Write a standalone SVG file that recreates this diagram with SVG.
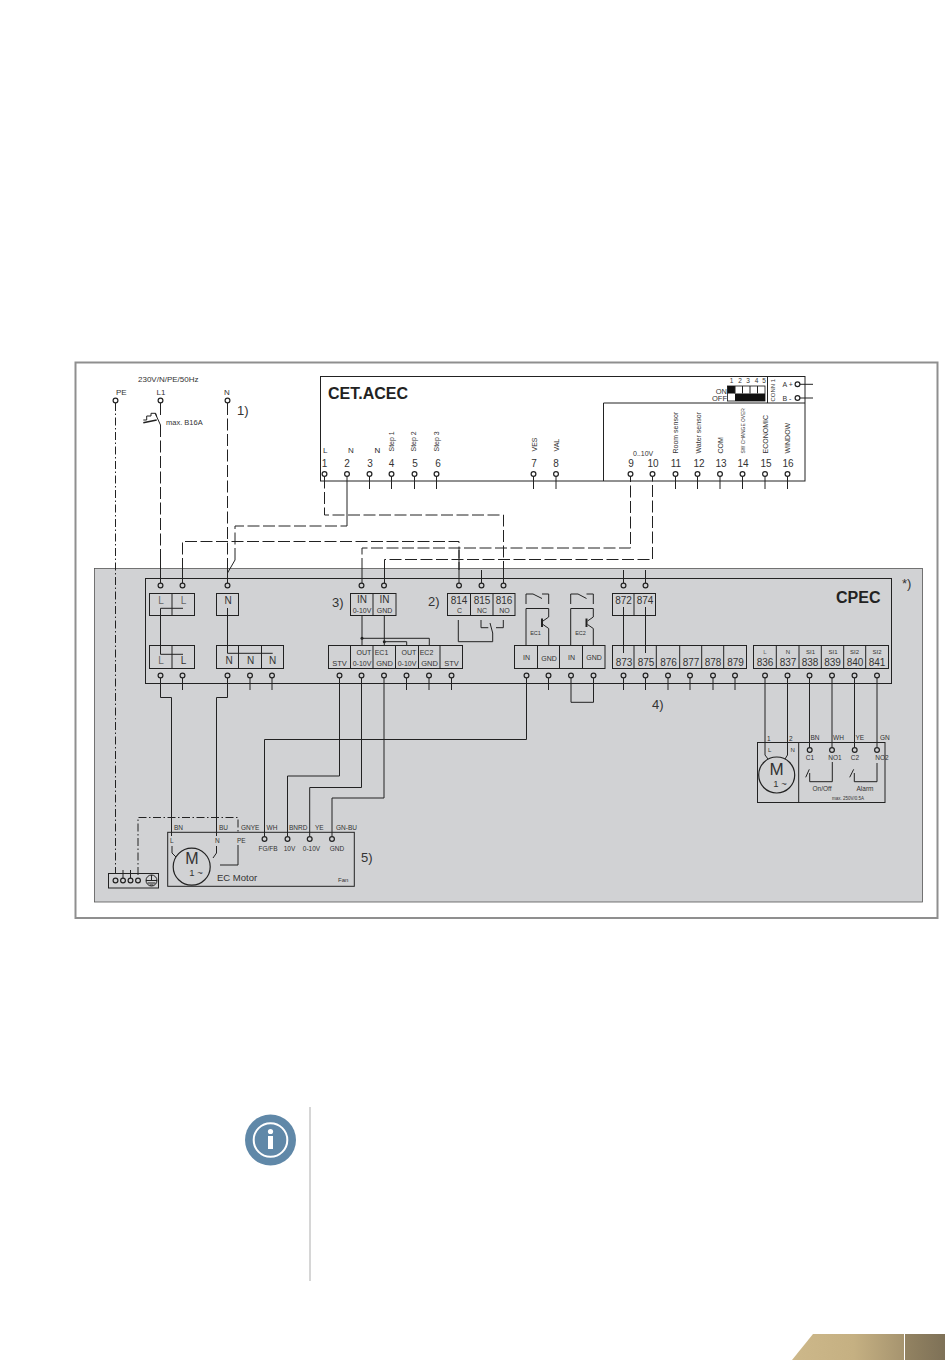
<svg xmlns="http://www.w3.org/2000/svg" width="950" height="1360" viewBox="0 0 950 1360">
<style>
text{font-family:"Liberation Sans",Arial,sans-serif;fill:#333;font-size:7px}
.m{text-anchor:middle}
.e{text-anchor:end}
.n{font-size:10px}
.s{font-size:7px}
.b{font-size:16px;font-weight:bold;fill:#222}
.r{font-size:13px}
.g{fill:#666}
.box{fill:none;stroke:#222;stroke-width:1}
.w{fill:none;stroke:#222;stroke-width:1}
.d{fill:none;stroke:#222;stroke-width:1;stroke-dasharray:12 3.500}
.p{fill:none;stroke:#222;stroke-width:1;stroke-dasharray:8 2.500 1.500 2.500}
.t{fill:#fff;stroke:#222;stroke-width:1.200}
.tg{fill:#d1d2d4;stroke:#222;stroke-width:1.200}
</style>
<defs>
<circle id="tw" r="2.400" class="t"/>
<circle id="tc" r="2.400" class="tg"/>
<linearGradient id="gold" x1="0" y1="0" x2="1" y2="0"><stop offset="0" stop-color="#cdb88a"/><stop offset="0.55" stop-color="#c5b082"/><stop offset="1" stop-color="#a6946f"/></linearGradient>
<linearGradient id="gold2" x1="0" y1="0" x2="1" y2="0"><stop offset="0" stop-color="#938362"/><stop offset="1" stop-color="#7e7157"/></linearGradient>
</defs>
<rect width="950" height="1360" fill="#fff"/>
<g id="frame">
<rect x="75.500" y="362.500" width="862" height="555.500" fill="#fff" stroke="#8f8f8f" stroke-width="2"/>
<rect x="94.500" y="568.500" width="828" height="333.500" fill="#d1d2d4" stroke="#555" stroke-width="0.800"/>
</g>
<g id="supply">
<text x="138" y="381.500" style="font-size:8px">230V/N/PE/50Hz</text>
<text x="116" y="394.500" style="font-size:8px">PE</text>
<text x="156.500" y="394.500" style="font-size:8px">L1</text>
<text x="224" y="394.500" style="font-size:8px">N</text>
<text x="237" y="415" class="r">1)</text>
<text x="166" y="424.500" style="font-size:7.500px">max. B16A</text>
<use href="#tw" x="115.500" y="400.500"/><use href="#tw" x="160.500" y="400.500"/><use href="#tw" x="227.500" y="400.500"/>
<path class="w" d="M160.500 403V415M155 413L160.500 425M143.300 420H146.700V416H151V413.300H155.700L156.700 416.700"/>
<path d="M143.300 422.700L156.700 420" stroke="#222" stroke-width="1.500" fill="none"/>
</g>
<g id="cet-acec">
<rect class="box" x="320.500" y="376.500" width="484.500" height="104.500"/>
<path class="box" d="M805 403H603.500V481"/>
<text x="328" y="399" class="b">CET.ACEC</text>
<text x="323" y="453" style="font-size:8px">L</text><text x="348" y="453" style="font-size:8px">N</text><text x="374.500" y="453" style="font-size:8px;fill:#222">N</text>
<g class="n">
<text class="m n" x="324.500" y="466.500">1</text><text class="m n" x="347" y="466.500">2</text><text class="m n" x="370" y="466.500">3</text><text class="m n" x="391.500" y="466.500">4</text><text class="m n" x="415" y="466.500">5</text><text class="m n" x="438" y="466.500">6</text><text class="m n" x="534" y="466.500">7</text><text class="m n" x="556" y="466.500">8</text><text class="m n" x="631" y="466.500">9</text><text class="m n" x="653" y="466.500">10</text><text class="m n" x="676" y="466.500">11</text><text class="m n" x="699" y="466.500">12</text><text class="m n" x="721" y="466.500">13</text><text class="m n" x="743" y="466.500">14</text><text class="m n" x="766" y="466.500">15</text><text class="m n" x="788" y="466.500">16</text>
</g>
<text transform="translate(393.500 451.500) rotate(-90)">Step 1</text>
<text transform="translate(416 451.500) rotate(-90)">Step 2</text>
<text transform="translate(438.500 451.500) rotate(-90)">Step 3</text>
<text transform="translate(536.500 451.500) rotate(-90)">VES</text>
<text transform="translate(559 451.500) rotate(-90)">VAL</text>
<text x="633" y="456">0..10V</text>
<text transform="translate(678 453.500) rotate(-90)">Room sensor</text>
<text transform="translate(700.500 453.500) rotate(-90)">Water sensor</text>
<text transform="translate(723 453.500) rotate(-90)">COM</text>
<text transform="translate(744.500 453.500) rotate(-90)" style="font-size:4.900px">SW CHANGE OVER</text>
<text transform="translate(767.500 453.500) rotate(-90)">ECONOMIC</text>
<text transform="translate(790 453.500) rotate(-90)">WINDOW</text>
<use href="#tw" x="324.500" y="474"/><use href="#tw" x="347" y="474"/><use href="#tw" x="369.500" y="474"/><use href="#tw" x="391.500" y="474"/><use href="#tw" x="414.500" y="474"/><use href="#tw" x="436.500" y="474"/><use href="#tw" x="533.500" y="474"/><use href="#tw" x="556" y="474"/><use href="#tw" x="630.500" y="474"/><use href="#tw" x="652.500" y="474"/><use href="#tw" x="675.500" y="474"/><use href="#tw" x="697.500" y="474"/><use href="#tw" x="720" y="474"/><use href="#tw" x="742.500" y="474"/><use href="#tw" x="765" y="474"/><use href="#tw" x="787.500" y="474"/>
<path class="w" d="M369.500 476.500V489M391.500 476.500V489M414.500 476.500V489M436.500 476.500V489M533.500 476.500V489M556 476.500V489M675.500 476.500V489M697.500 476.500V489M720 476.500V489M742.500 476.500V489M765 476.500V489M787.500 476.500V489"/>
<g id="dip">
<text class="e" x="727" y="393.500" style="font-size:7.500px">ON</text>
<text class="e" x="727" y="401" style="font-size:7.500px">OFF</text>
<text class="m" x="731.500" y="382.500" style="font-size:6.500px">1</text><text class="m" x="740" y="382.500" style="font-size:6.500px">2</text><text class="m" x="748" y="382.500" style="font-size:6.500px">3</text><text class="m" x="756.500" y="382.500" style="font-size:6.500px">4</text><text class="m" x="764" y="382.500" style="font-size:6.500px">5</text>
<rect x="727.500" y="386" width="37.500" height="15" fill="#fff" stroke="#111" stroke-width="0.800"/>
<rect x="727.500" y="386" width="7.500" height="7.500" fill="#111"/>
<rect x="735" y="393.500" width="30" height="7.500" fill="#111"/>
<path class="box" d="M742.500 386V393.500M750 386V393.500M757.500 386V393.500M735 386V393.500"/>
<path class="box" d="M767.500 376.500V403"/>
<text transform="translate(775 401.500) rotate(-90)" style="font-size:6px">CONN 1</text>
<text x="782.500" y="386.500">A +</text>
<text x="782.500" y="400.500">B -</text>
<use href="#tw" x="797.500" y="384.300"/><use href="#tw" x="797.500" y="398"/>
<path class="w" d="M800 384.300H813M800 398H813"/>
</g>
</g>
<g id="connectors">
<path class="p" d="M115.500 403V873"/>
<path class="p" d="M138 875V817.500H238V832"/>
<path class="w" d="M238 845V865H220"/>
<path class="d" d="M160.500 425V560"/>
<path class="w" d="M160.500 560V583"/>
<path class="d" d="M227.500 403V568"/>
<path class="w" d="M227.500 568V583M227.500 573L235 560"/>
<path class="d" d="M235 560V526H347"/>
<path class="w" d="M347 476.500V526"/>
<path class="d" d="M324.500 476.500V515H503.500V570"/>
<path class="w" d="M503.500 570V583"/>
<path class="d" d="M182.500 570V541.500H459V570"/>
<path class="w" d="M182.500 570V583M459 550V583"/>
<path class="d" d="M362 570V548H630.500V476.500"/>
<path class="d" d="M384.500 570V559.500H652.500V476.500"/>
<path class="w" d="M362 570V583M384.500 570V583M481.500 570V583M623.500 570V583M645.500 570V583"/>
<path class="w" d="M160.500 678V697.500H171.500V836M172 846V853L176 857"/>
<path class="w" d="M227.500 678V697.500H216.500V836M216.500 846V853L213 858"/>
<path class="w" d="M526.500 678V739.500H264.500V836.500"/>
<path class="w" d="M339.500 678V776H287.500V836.500"/>
<path class="w" d="M361.500 678V787.500H309.700V836.500"/>
<path class="w" d="M384 678V798H332V836.500"/>
<path class="w" d="M250 678V690M272 678V690M406.500 678V690M429 678V690M451.500 678V690M548.500 678V690M623.500 678V690M645.500 678V690M668 678V690M690 678V690M713 678V690M735 678V690"/>
<path class="w" d="M182.500 678V690"/>
<path class="w" d="M571 678V702.300H593.500V678"/>
<path class="w" d="M765 678V755L768 759M787.500 678V755L785 759"/>
<path class="w" d="M809.500 678V747.500M832 678V747.500M854.500 678V747.500M877 678V747.500"/>
</g>
<g id="cpec">
<rect class="box" x="145.500" y="578.500" width="746" height="105"/>
<text x="836" y="603" class="b">CPEC</text>
<text x="902" y="588" class="r">*)</text>
<text x="332" y="607" class="r">3)</text>
<text x="428" y="606" class="r">2)</text>
<text x="652" y="709" class="r">4)</text>
<use href="#tc" x="160.500" y="585.500"/><use href="#tc" x="182.500" y="585.500"/><use href="#tc" x="227.500" y="585.500"/><use href="#tc" x="361.500" y="585.500"/><use href="#tc" x="384" y="585.500"/><use href="#tc" x="459" y="585.500"/><use href="#tc" x="481.500" y="585.500"/><use href="#tc" x="503.500" y="585.500"/><use href="#tc" x="623.500" y="585.500"/><use href="#tc" x="645.500" y="585.500"/>
<use href="#tc" x="160.500" y="675.500"/><use href="#tc" x="182.500" y="675.500"/><use href="#tc" x="227.500" y="675.500"/><use href="#tc" x="250" y="675.500"/><use href="#tc" x="272" y="675.500"/><use href="#tc" x="339.500" y="675.500"/><use href="#tc" x="361.500" y="675.500"/><use href="#tc" x="384" y="675.500"/><use href="#tc" x="406.500" y="675.500"/><use href="#tc" x="429" y="675.500"/><use href="#tc" x="451.500" y="675.500"/><use href="#tc" x="526.500" y="675.500"/><use href="#tc" x="548.500" y="675.500"/><use href="#tc" x="571" y="675.500"/><use href="#tc" x="593.500" y="675.500"/><use href="#tc" x="623.500" y="675.500"/><use href="#tc" x="645.500" y="675.500"/><use href="#tc" x="668" y="675.500"/><use href="#tc" x="690" y="675.500"/><use href="#tc" x="713" y="675.500"/><use href="#tc" x="735" y="675.500"/><use href="#tc" x="765" y="675.500"/><use href="#tc" x="787.500" y="675.500"/><use href="#tc" x="809.500" y="675.500"/><use href="#tc" x="832" y="675.500"/><use href="#tc" x="854.500" y="675.500"/><use href="#tc" x="877" y="675.500"/>
<g id="block-l-top"><rect class="box" x="149.500" y="593.500" width="45" height="22"/><path class="box" d="M172 593.500V615.500"/>
<text class="m n g" x="161" y="604">L</text><text class="m n g" x="183.500" y="604">L</text>
<path class="w" d="M183 608.300H160.500V654.300H183"/></g>
<g id="block-n-top"><rect class="box" x="216.500" y="593.500" width="22" height="22"/><text class="m n" x="228" y="603.500">N</text><path class="w" d="M227.500 608V653.300H272.700"/></g>
<g id="block-l-bottom"><rect class="box" x="149.500" y="645.500" width="45" height="23"/><path class="box" d="M172 645.500V668.500"/>
<text class="m n g" x="161" y="664">L</text><text class="m n" x="183.500" y="664">L</text></g>
<g id="block-n-bottom"><rect class="box" x="216.500" y="645.500" width="67" height="23"/><path class="box" d="M238.500 645.500V668.500M261.500 645.500V668.500"/>
<text class="m n" x="229" y="664">N</text><text class="m n" x="250.500" y="664">N</text><text class="m n" x="272.500" y="664">N</text></g>
<g id="block-in"><rect class="box" x="350.500" y="593.500" width="45.500" height="22"/><path class="box" d="M373 593.500V615.500"/>
<text class="m n" x="362" y="603">IN</text><text class="m n" x="384.500" y="603">IN</text><text class="m s" x="362" y="612.500">0-10V</text><text class="m s" x="384.500" y="612.500">GND</text>
<path class="w" d="M362 615.500V645.500M384.300 615.500V645.500M362 638.300H429.300V645.500M384.300 641.700H406.700V645.500"/>
<circle cx="362" cy="638.300" r="1.500" fill="#222"/><circle cx="384.300" cy="641.700" r="1.500" fill="#222"/></g>
<g id="block-814"><rect class="box" x="447.500" y="593.500" width="67.500" height="22"/><path class="box" d="M470.500 593.500V615.500M493 593.500V615.500"/>
<text class="m n" x="459" y="603.500">814</text><text class="m n" x="482" y="603.500">815</text><text class="m n" x="504" y="603.500">816</text>
<text class="m s" x="459.500" y="612.500">C</text><text class="m s" x="482" y="612.500">NC</text><text class="m s" x="504.500" y="612.500">NO</text>
<path class="w" d="M458.300 620V641.700H492.700V633L490 623M481 620V627.700H488.300M503.300 620V627.700H496"/></g>
<g id="block-stv"><rect class="box" x="328.500" y="645.500" width="134" height="23"/><path class="box" d="M350.500 645.500V668.500M373 645.500V668.500M395.500 645.500V668.500M418.500 645.500V668.500M440 645.500V668.500"/>
<text class="m" x="339.500" y="666" style="font-size:7.500px">STV</text><text class="m s" x="362" y="666">0-10V</text><text class="m" x="384.500" y="666" style="font-size:7.500px">GND</text><text class="m s" x="407" y="666">0-10V</text><text class="m" x="429.500" y="666" style="font-size:7.500px">GND</text><text class="m" x="451.500" y="666" style="font-size:7.500px">STV</text>
<text class="m s" x="364" y="654.500">OUT</text><text class="m s" x="381.500" y="654.500">EC1</text><text class="m s" x="409" y="654.500">OUT</text><text class="m s" x="426.500" y="654.500">EC2</text></g>
<g id="block-ec"><rect class="box" x="514.500" y="645.500" width="90.500" height="23"/><path class="box" d="M537.500 645.500V668.500M559.500 645.500V668.500M582.500 645.500V668.500"/>
<text class="m" x="526.500" y="660">IN</text><text class="m" x="549" y="660.500">GND</text><text class="m" x="571.500" y="660">IN</text><text class="m" x="594" y="660">GND</text>
<path class="w" d="M526 604V594H533L542 598.500M542 594H548.700V604"/>
<path class="w" d="M526 645.500V608.500H548.700V617L543 621M543 624.500L548.700 628.500V645.500"/>
<path d="M542 618.500V627" stroke="#222" stroke-width="2" fill="none"/>
<text class="m" x="535.500" y="635" style="font-size:5.500px">EC1</text>
<path class="w" d="M570.700 604V594H578L586.500 598.500M586.500 594H593.300V604"/>
<path class="w" d="M570.700 645.500V608.500H593.300V617L587.500 621M587.500 624.500L593.300 628.500V645.500"/>
<path d="M586.500 618.500V627" stroke="#222" stroke-width="2" fill="none"/>
<text class="m" x="580.500" y="635" style="font-size:5.500px">EC2</text></g>
<g id="block-872"><rect class="box" x="612.500" y="593.500" width="43" height="22"/><path class="box" d="M634 593.500V615.500"/>
<text class="m n" x="623.500" y="603.500">872</text><text class="m n" x="645" y="603.500">874</text>
<path class="w" d="M623.500 607V653M645.500 607V653"/></g>
<g id="block-873"><rect class="box" x="612.500" y="645.500" width="134" height="23"/><path class="box" d="M634 645.500V668.500M656.300 645.500V668.500M679.700 645.500V668.500M701.700 645.500V668.500M723.700 645.500V668.500"/>
<text class="m n" x="624" y="666">873</text><text class="m n" x="646" y="666">875</text><text class="m n" x="668.500" y="666">876</text><text class="m n" x="691" y="666">877</text><text class="m n" x="713" y="666">878</text><text class="m n" x="735.500" y="666">879</text></g>
<g id="block-836"><rect class="box" x="753.500" y="645.500" width="135" height="23"/><path class="box" d="M776.300 645.500V668.500M799 645.500V668.500M821.300 645.500V668.500M843.700 645.500V668.500M865.700 645.500V668.500"/>
<text class="m n" x="765" y="666">836</text><text class="m n" x="788" y="666">837</text><text class="m n" x="810" y="666">838</text><text class="m n" x="832.500" y="666">839</text><text class="m n" x="855" y="666">840</text><text class="m n" x="877" y="666">841</text>
<text class="m g" x="765" y="653.500" style="font-size:6px">L</text><text class="m" x="788" y="653.500" style="font-size:6px">N</text><text class="m" x="810.500" y="653.500" style="font-size:6px">SI1</text><text class="m" x="833" y="653.500" style="font-size:6px">SI1</text><text class="m" x="854.500" y="653.500" style="font-size:6px">SI2</text><text class="m" x="877" y="653.500" style="font-size:6px">SI2</text></g>
</g>
<g id="pump-motor">
<rect class="box" x="757.500" y="742.500" width="127.500" height="60"/><path class="box" d="M798.700 742.500V802.500"/>
<circle cx="776.700" cy="775" r="18" fill="none" stroke="#222" stroke-width="1.200"/>
<text class="m" x="776.700" y="775" style="font-size:17px">M</text><text class="m" x="780" y="786.500" style="font-size:9.500px">1 ~</text>
<text x="767" y="741" style="font-size:6.500px">1</text><text x="789" y="741" style="font-size:6.500px">2</text>
<text x="768" y="751.500" style="font-size:6px">L</text><text x="790.500" y="751.500" style="font-size:6px">N</text>
<text x="810.500" y="740" style="font-size:6.500px">BN</text><text x="833" y="740" style="font-size:6.500px">WH</text><text x="855.500" y="740" style="font-size:6.500px">YE</text><text x="880" y="740" style="font-size:6.500px">GN</text>
<use href="#tc" x="809.700" y="750"/><use href="#tc" x="832" y="750"/><use href="#tc" x="854.700" y="750"/><use href="#tc" x="877" y="750"/>
<text class="m" x="810" y="760" style="font-size:6.500px">C1</text><text class="m" x="835" y="760" style="font-size:6.500px">NO1</text><text class="m" x="855" y="760" style="font-size:6.500px">C2</text><text class="m" x="882" y="760" style="font-size:6.500px">NO2</text>
<path class="w" d="M805.700 777.300L809.300 769.300M809.700 773V781.700H832.300V762M849.700 777.300L853.700 769.300M854.300 773V781.700H877V763"/>
<text class="m" x="822" y="791" style="font-size:6.500px">On/Off</text><text class="m" x="865" y="791" style="font-size:6.500px">Alarm</text>
<text class="m" x="848" y="800" style="font-size:4.500px">max. 250V/0.5A</text>
</g>
<g id="ec-motor">
<rect class="box" x="167.700" y="832.300" width="186.600" height="54"/>
<circle cx="191.700" cy="866.700" r="18.500" fill="none" stroke="#222" stroke-width="1.200"/>
<text class="m" x="192" y="864" style="font-size:16px">M</text><text class="m" x="196" y="876" style="font-size:9.500px">1 ~</text>
<text x="217" y="881" style="font-size:9.500px">EC Motor</text>
<text x="338" y="882" style="font-size:6px">Fan</text>
<text x="361" y="862" class="r">5)</text>
<text x="174" y="829.500" style="font-size:6.500px">BN</text><text x="219" y="829.500" style="font-size:6.500px">BU</text><text x="241" y="829.500" style="font-size:6.500px">GNYE</text><text x="266.500" y="829.500" style="font-size:6.500px">WH</text><text x="289" y="829.500" style="font-size:6.500px">BNRD</text><text x="315" y="829.500" style="font-size:6.500px">YE</text><text x="336" y="829.500" style="font-size:6.500px">GN-BU</text>
<text x="170" y="843" style="font-size:6.500px">L</text><text x="215" y="843" style="font-size:6.500px">N</text><text x="237" y="843" style="font-size:6.500px">PE</text>
<use href="#tc" x="264.500" y="839"/><use href="#tc" x="287.500" y="839"/><use href="#tc" x="309.700" y="839"/><use href="#tc" x="332" y="839"/>
<text class="m" x="268" y="850.500" style="font-size:6.500px">FG/FB</text><text class="m" x="289.500" y="850.500" style="font-size:6.500px">10V</text><text class="m" x="311.500" y="850.500" style="font-size:6.500px">0-10V</text><text class="m" x="337" y="850.500" style="font-size:6.500px">GND</text>
</g>
<g id="earth-strip">
<rect class="box" x="108.500" y="873.500" width="50" height="14.500"/>
<path class="w" d="M123 870V878M130.500 870V878"/>
<use href="#tc" x="115.500" y="880.500"/><use href="#tc" x="123" y="880.500"/><use href="#tc" x="130.500" y="880.500"/><use href="#tc" x="138" y="880.500"/>
<circle cx="151.500" cy="880.500" r="5.500" fill="none" stroke="#222"/>
<path class="w" d="M146 880.500H157M147.500 883H155.500M149.500 885H153.500M151.500 875V880.500"/>
</g>
<g id="info">
<path d="M310 1107V1281" stroke="#c9c9c9" stroke-width="1.500" fill="none"/>
<circle cx="270.500" cy="1140" r="25.500" fill="#6088a8"/>
<circle cx="270.500" cy="1140" r="16.800" fill="none" stroke="#fff" stroke-width="2"/>
<circle cx="270.500" cy="1131.500" r="2.600" fill="#fff"/>
<rect x="268" y="1136" width="5" height="13" fill="#fff"/>
</g>
<g id="footer">
<polygon points="813,1334 904,1334 904,1360 792,1360" fill="url(#gold)"/>
<rect x="905" y="1334" width="40" height="26" fill="url(#gold2)"/>
</g>
</svg>
